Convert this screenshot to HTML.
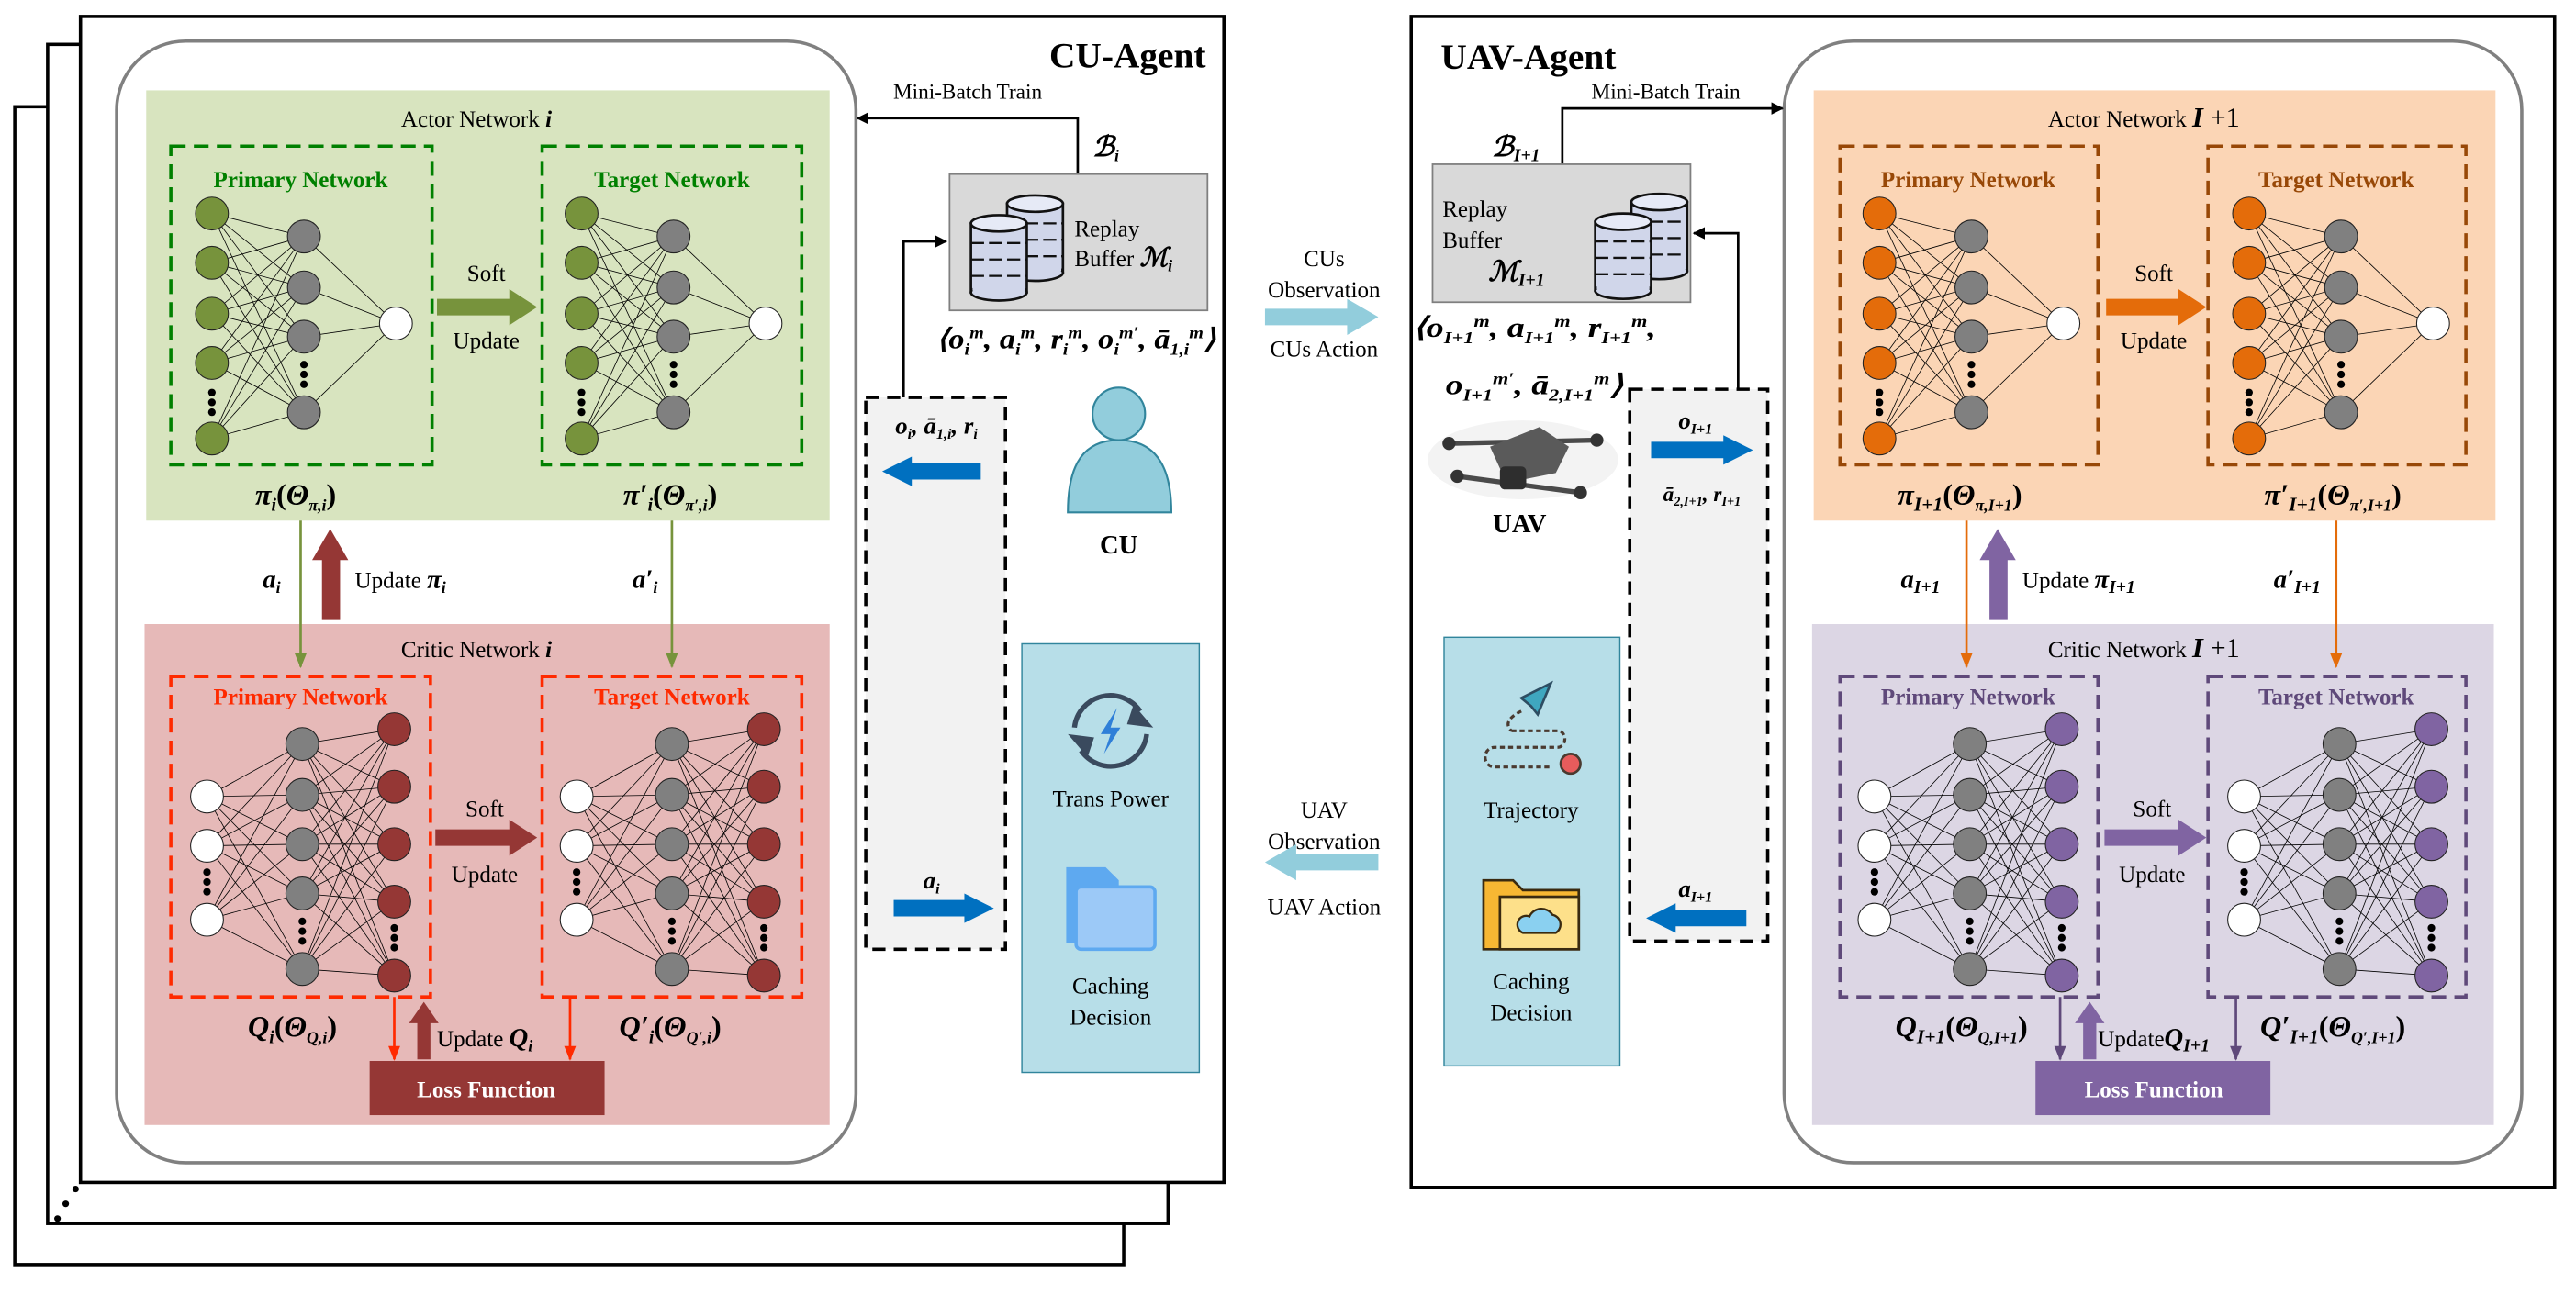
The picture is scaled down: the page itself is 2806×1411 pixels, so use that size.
<!DOCTYPE html>
<html><head><meta charset="utf-8">
<style>
html,body{margin:0;padding:0;background:#fff;}
svg{display:block;font-family:"Liberation Serif","Times New Roman",serif;}
svg text{font-family:"Liberation Serif","Times New Roman",serif;}
.m{font-style:italic;font-weight:bold;}
</style></head>
<body>
<svg id="s" width="2806" height="1411" viewBox="0 0 1568 788.5" preserveAspectRatio="none" xmlns="http://www.w3.org/2000/svg" font-family="Liberation Serif, serif">
<defs>
<marker id="ak" viewBox="0 0 10 10" refX="9" refY="5" markerWidth="5" markerHeight="5" orient="auto"><path d="M0,0L10,5L0,10z" fill="#000"/></marker>
<marker id="ag" viewBox="0 0 10 10" refX="9" refY="5" markerWidth="6" markerHeight="6" orient="auto"><path d="M0,1L10,5L0,9z" fill="#77933c"/></marker>
<marker id="ar" viewBox="0 0 10 10" refX="9" refY="5" markerWidth="6" markerHeight="6" orient="auto"><path d="M0,1L10,5L0,9z" fill="#ff2a00"/></marker>
<marker id="ao" viewBox="0 0 10 10" refX="9" refY="5" markerWidth="6" markerHeight="6" orient="auto"><path d="M0,1L10,5L0,9z" fill="#e46c0a"/></marker>
<marker id="ap" viewBox="0 0 10 10" refX="9" refY="5" markerWidth="6" markerHeight="6" orient="auto"><path d="M0,1L10,5L0,9z" fill="#5f497a"/></marker>
</defs>
<g font-family="Liberation Serif, serif">
<!-- stacked frames left -->
<rect x="9" y="65" width="675" height="705" fill="#fff" stroke="#000" stroke-width="2"/>
<rect x="29" y="27" width="682" height="718" fill="#fff" stroke="#000" stroke-width="2"/>
<rect x="49" y="10" width="696" height="710" fill="#fff" stroke="#000" stroke-width="2"/>
<circle cx="35" cy="742" r="2" fill="#000"/><circle cx="40" cy="733" r="2" fill="#000"/><circle cx="46" cy="724" r="2" fill="#000"/>
<rect x="71" y="25" width="450" height="683" rx="42" fill="#fff" stroke="#808080" stroke-width="2"/>
<rect x="89" y="55" width="416" height="262" fill="#d8e4bf"/>
<rect x="88" y="380" width="417" height="305" fill="#e6b9b8"/>
<rect x="104" y="89" width="159" height="194" fill="none" stroke="#008000" stroke-width="2" stroke-dasharray="9,5"/>
<rect x="330" y="89" width="158" height="194" fill="none" stroke="#008000" stroke-width="2" stroke-dasharray="9,5"/>
<rect x="104" y="412" width="158" height="195" fill="none" stroke="#ff2a00" stroke-width="2" stroke-dasharray="9,5"/>
<rect x="330" y="412" width="158" height="195" fill="none" stroke="#ff2a00" stroke-width="2" stroke-dasharray="9,5"/>
<!-- right frame -->
<rect x="859" y="10" width="696" height="713" fill="#fff" stroke="#000" stroke-width="2"/>
<rect x="1086" y="25" width="449" height="683" rx="42" fill="#fff" stroke="#808080" stroke-width="2"/>
<rect x="1104" y="55" width="415" height="262" fill="#fbd5b5"/>
<rect x="1103" y="380" width="415" height="305" fill="#dcd6e4"/>
<rect x="1120" y="89" width="157" height="194" fill="none" stroke="#984807" stroke-width="2" stroke-dasharray="9,5"/>
<rect x="1344" y="89" width="157" height="194" fill="none" stroke="#984807" stroke-width="2" stroke-dasharray="9,5"/>
<rect x="1120" y="412" width="157" height="195" fill="none" stroke="#5f497a" stroke-width="2" stroke-dasharray="9,5"/>
<rect x="1344" y="412" width="157" height="195" fill="none" stroke="#5f497a" stroke-width="2" stroke-dasharray="9,5"/>
<g id="nets"></g>

<!-- titles -->
<g font-size="14" text-anchor="middle">
<text x="290" y="77">Actor Network <tspan class="m">i</tspan></text>
<text x="290" y="400">Critic Network <tspan class="m">i</tspan></text>
<text x="1305" y="77">Actor Network <tspan class="m" font-size="17">I</tspan><tspan font-size="17"> +1</tspan></text>
<text x="1305" y="400">Critic Network <tspan class="m" font-size="17">I</tspan><tspan font-size="17"> +1</tspan></text>
</g>
<g font-size="14" font-weight="bold" text-anchor="middle">
<text x="183" y="114" fill="#008000">Primary Network</text>
<text x="409" y="114" fill="#008000">Target Network</text>
<text x="183" y="429" fill="#ff2a00">Primary Network</text>
<text x="409" y="429" fill="#ff2a00">Target Network</text>
<text x="1198" y="114" fill="#984807">Primary Network</text>
<text x="1422" y="114" fill="#984807">Target Network</text>
<text x="1198" y="429" fill="#5f497a">Primary Network</text>
<text x="1422" y="429" fill="#5f497a">Target Network</text>
</g>
<g font-size="14" text-anchor="middle">
<text x="296" y="171">Soft</text><text x="296" y="212">Update</text>
<text x="295" y="497">Soft</text><text x="295" y="537">Update</text>
<text x="1311" y="171">Soft</text><text x="1311" y="212">Update</text>
<text x="1310" y="497">Soft</text><text x="1310" y="537">Update</text>
</g>
<!-- block arrows -->
<polygon points="266,182 310,182 310,176 327,187 310,198 310,192 266,192" fill="#77933c"/>
<polygon points="265,505 310,505 310,499 327,510 310,521 310,515 265,515" fill="#953735"/>
<polygon points="1282,182 1326,182 1326,176 1343,187 1326,198 1326,192 1282,192" fill="#e46c0a"/>
<polygon points="1281,505 1326,505 1326,499 1343,510 1326,521 1326,515 1281,515" fill="#8064a2"/>
<polygon points="196,377 196,341 190,341 201,322 212,341 207,341 207,377" fill="#953735"/>
<polygon points="1211,377 1211,341 1205,341 1216,322 1227,341 1222,341 1222,377" fill="#8064a2"/>
<polygon points="254,645 254,623 249,623 258,610 267,623 262,623 262,645" fill="#953735"/>
<polygon points="1268,645 1268,623 1263,623 1272,610 1281,623 1276,623 1276,645" fill="#8064a2"/>
<!-- thin connectors -->
<line x1="183" y1="317" x2="183" y2="406" stroke="#77933c" stroke-width="1.5" marker-end="url(#ag)"/>
<line x1="409" y1="317" x2="409" y2="406" stroke="#77933c" stroke-width="1.5" marker-end="url(#ag)"/>
<line x1="240" y1="607" x2="240" y2="645" stroke="#ff2a00" stroke-width="1.5" marker-end="url(#ar)"/>
<line x1="347" y1="607" x2="347" y2="645" stroke="#ff2a00" stroke-width="1.5" marker-end="url(#ar)"/>
<line x1="1197" y1="317" x2="1197" y2="406" stroke="#e46c0a" stroke-width="1.5" marker-end="url(#ao)"/>
<line x1="1422" y1="317" x2="1422" y2="406" stroke="#e46c0a" stroke-width="1.5" marker-end="url(#ao)"/>
<line x1="1254" y1="607" x2="1254" y2="645" stroke="#5f497a" stroke-width="1.5" marker-end="url(#ap)"/>
<line x1="1361" y1="607" x2="1361" y2="645" stroke="#5f497a" stroke-width="1.5" marker-end="url(#ap)"/>
<!-- loss -->
<rect x="225" y="646" width="143" height="33" fill="#953735"/>
<text x="296" y="668" font-size="14" font-weight="bold" fill="#fff" text-anchor="middle">Loss Function</text>
<rect x="1239" y="646" width="143" height="33" fill="#8064a2"/>
<text x="1311" y="668" font-size="14" font-weight="bold" fill="#fff" text-anchor="middle">Loss Function</text>
<!-- math labels -->
<g font-size="18" text-anchor="middle">
<text x="180" y="307" class="m">π<tspan font-size="11" dy="4">i</tspan><tspan dy="-4" font-style="normal">(</tspan>Θ<tspan font-size="10" dy="4">π,i</tspan><tspan dy="-4" font-style="normal">)</tspan></text>
<text x="408" y="307" class="m">π′<tspan font-size="11" dy="4">i</tspan><tspan dy="-4" font-style="normal">(</tspan>Θ<tspan font-size="10" dy="4">π′,i</tspan><tspan dy="-4" font-style="normal">)</tspan></text>
<text x="178" y="631" class="m">Q<tspan font-size="11" dy="4">i</tspan><tspan dy="-4" font-style="normal">(</tspan>Θ<tspan font-size="10" dy="4">Q,i</tspan><tspan dy="-4" font-style="normal">)</tspan></text>
<text x="408" y="631" class="m">Q′<tspan font-size="11" dy="4">i</tspan><tspan dy="-4" font-style="normal">(</tspan>Θ<tspan font-size="10" dy="4">Q′,i</tspan><tspan dy="-4" font-style="normal">)</tspan></text>
<text x="1193" y="307" class="m">π<tspan font-size="12" dy="4">I+1</tspan><tspan dy="-4" font-style="normal">(</tspan>Θ<tspan font-size="10" dy="4">π,I+1</tspan><tspan dy="-4" font-style="normal">)</tspan></text>
<text x="1420" y="307" class="m">π′<tspan font-size="12" dy="4">I+1</tspan><tspan dy="-4" font-style="normal">(</tspan>Θ<tspan font-size="10" dy="4">π′,I+1</tspan><tspan dy="-4" font-style="normal">)</tspan></text>
<text x="1194" y="631" class="m">Q<tspan font-size="12" dy="4">I+1</tspan><tspan dy="-4" font-style="normal">(</tspan>Θ<tspan font-size="10" dy="4">Q,I+1</tspan><tspan dy="-4" font-style="normal">)</tspan></text>
<text x="1420" y="631" class="m">Q′<tspan font-size="12" dy="4">I+1</tspan><tspan dy="-4" font-style="normal">(</tspan>Θ<tspan font-size="10" dy="4">Q′,I+1</tspan><tspan dy="-4" font-style="normal">)</tspan></text>
</g>
<g font-size="16">
<text x="160" y="358" class="m">a<tspan font-size="10" dy="3">i</tspan></text>
<text x="385" y="358" class="m">a′<tspan font-size="10" dy="3">i</tspan></text>
<text x="216" y="358" font-size="14">Update <tspan class="m" font-size="16">π<tspan font-size="10" dy="3">i</tspan></tspan></text>
<text x="266" y="637" font-size="14">Update <tspan class="m" font-size="16">Q<tspan font-size="10" dy="3">i</tspan></tspan></text>
<text x="1157" y="358" class="m">a<tspan font-size="11" dy="3">I+1</tspan></text>
<text x="1384" y="358" class="m">a′<tspan font-size="11" dy="3">I+1</tspan></text>
<text x="1231" y="358" font-size="14">Update <tspan class="m" font-size="16">π<tspan font-size="11" dy="3">I+1</tspan></tspan></text>
<text x="1277" y="637" font-size="14">Update<tspan class="m" font-size="16">Q<tspan font-size="11" dy="3">I+1</tspan></tspan></text>
</g>
<!-- agent titles -->
<text x="734" y="41" font-size="22" font-weight="bold" text-anchor="end">CU-Agent</text>
<text x="877" y="42" font-size="22" font-weight="bold">UAV-Agent</text>
<!-- CU side -->
<text x="589" y="60" font-size="13" text-anchor="middle">Mini-Batch Train</text>
<polyline points="656,106 656,72 522,72" fill="none" stroke="#000" stroke-width="1.5" marker-end="url(#ak)"/>
<text x="665" y="95" font-size="17" class="m">ℬ<tspan font-size="10" dy="3">i</tspan></text>
<rect x="578" y="106" width="157" height="83" fill="#d9d9d9" stroke="#7f7f7f" stroke-width="1"/>
<g id="db1"></g>
<text x="654" y="144" font-size="14">Replay</text>
<text x="654" y="162" font-size="14">Buffer <tspan class="m" font-size="16">ℳ<tspan font-size="10" dy="3">i</tspan></tspan></text>
<text x="655" y="212" font-size="17" class="m" text-anchor="middle" textLength="170" lengthAdjust="spacingAndGlyphs">⟨o<tspan font-size="10" dy="4">i</tspan><tspan font-size="10" dy="-10">m</tspan><tspan dy="6">, a</tspan><tspan font-size="10" dy="4">i</tspan><tspan font-size="10" dy="-10">m</tspan><tspan dy="6">, r</tspan><tspan font-size="10" dy="4">i</tspan><tspan font-size="10" dy="-10">m</tspan><tspan dy="6">, o</tspan><tspan font-size="10" dy="4">i</tspan><tspan font-size="10" dy="-10">m′</tspan><tspan dy="6">, ā</tspan><tspan font-size="10" dy="4">1,i</tspan><tspan font-size="10" dy="-10">m</tspan><tspan dy="6">⟩</tspan></text>
<rect x="527" y="242" width="85" height="336" fill="#f2f2f2" stroke="#000" stroke-width="2" stroke-dasharray="8,5"/>
<polyline points="550,242 550,147 576,147" fill="none" stroke="#000" stroke-width="1.5" marker-end="url(#ak)"/>
<text x="570" y="264" font-size="15" class="m" text-anchor="middle">o<tspan font-size="9" dy="3">i</tspan><tspan dy="-3">, ā</tspan><tspan font-size="9" dy="3">1,i</tspan><tspan dy="-3">, r</tspan><tspan font-size="9" dy="3">i</tspan></text>
<polygon points="537,287 555,278 555,282 597,282 597,292 555,292 555,296" fill="#0070c0"/>
<text x="567" y="541" font-size="15" class="m" text-anchor="middle">a<tspan font-size="9" dy="3">i</tspan></text>
<polygon points="605,553 587,544 587,548 544,548 544,558 587,558 587,562" fill="#0070c0"/>
<!-- CU person -->
<path d="M650,312 C650,282 660,268 681,268 C702,268 713,282 713,312 Z" fill="#92cddc" stroke="#31859c" stroke-width="1.2"/>
<circle cx="681" cy="252" r="16" fill="#92cddc" stroke="#31859c" stroke-width="1.2"/>
<text x="681" y="337" font-size="16" font-weight="bold" text-anchor="middle">CU</text>
<rect x="622" y="392" width="108" height="261" fill="#b7dee8" stroke="#31859c" stroke-width="0.8"/>
<g transform="translate(676,445)">
<path d="M-22,-2 A22,22 0 0 1 18,-12" fill="none" stroke="#3a4a5e" stroke-width="3"/>
<path d="M22,2 A22,22 0 0 1 -18,12" fill="none" stroke="#3a4a5e" stroke-width="3"/>
<polygon points="14,-16 26,-2 10,-4" fill="#3a4a5e"/><polygon points="-14,16 -26,2 -10,4" fill="#3a4a5e"/>
<polygon points="4,-14 -6,2 0,2 -4,14 6,-2 0,-2" fill="#2f7fd8"/>
</g>
<text x="676" y="491" font-size="14" text-anchor="middle">Trans Power</text>
<g transform="translate(649,528)">
<path d="M0,0 H24 L32,8 V46 H0 Z" fill="#5ea9f0"/>
<rect x="6" y="12" width="48" height="38" rx="3" fill="#9cc9f7" stroke="#5ea9f0" stroke-width="2"/>
</g>
<text x="676" y="605" font-size="14" text-anchor="middle">Caching</text>
<text x="676" y="624" font-size="14" text-anchor="middle">Decision</text>
<!-- middle -->
<g font-size="14" text-anchor="middle">
<text x="806" y="162">CUs</text><text x="806" y="181">Observation</text><text x="806" y="217">CUs Action</text>
<text x="806" y="498">UAV</text><text x="806" y="517">Observation</text><text x="806" y="557">UAV Action</text>
</g>
<polygon points="770,188 820,188 820,182 839,193 820,204 820,198 770,198" fill="#92cddc"/>
<polygon points="839,520 789,520 789,514 770,525 789,536 789,530 839,530" fill="#92cddc"/>
<!-- UAV side -->
<text x="1014" y="60" font-size="13" text-anchor="middle">Mini-Batch Train</text>
<polyline points="951,100 951,66 1085,66" fill="none" stroke="#000" stroke-width="1.5" marker-end="url(#ak)"/>
<text x="908" y="95" font-size="17" class="m">ℬ<tspan font-size="11" dy="3">I+1</tspan></text>
<rect x="872" y="100" width="157" height="84" fill="#d9d9d9" stroke="#7f7f7f" stroke-width="1"/>
<g id="db2"></g>
<text x="878" y="132" font-size="14">Replay</text>
<text x="878" y="151" font-size="14">Buffer</text>
<text x="906" y="171" font-size="17" class="m">ℳ<tspan font-size="11" dy="3">I+1</tspan></text>
<text x="860" y="205" font-size="17" class="m" textLength="148" lengthAdjust="spacingAndGlyphs">⟨o<tspan font-size="10" dy="4">I+1</tspan><tspan font-size="10" dy="-10">m</tspan><tspan dy="6">, a</tspan><tspan font-size="10" dy="4">I+1</tspan><tspan font-size="10" dy="-10">m</tspan><tspan dy="6">, r</tspan><tspan font-size="10" dy="4">I+1</tspan><tspan font-size="10" dy="-10">m</tspan><tspan dy="6">,</tspan></text>
<text x="880" y="240" font-size="17" class="m" textLength="108" lengthAdjust="spacingAndGlyphs">o<tspan font-size="10" dy="4">I+1</tspan><tspan font-size="10" dy="-10">m′</tspan><tspan dy="6">, ā</tspan><tspan font-size="10" dy="4">2,I+1</tspan><tspan font-size="10" dy="-10">m</tspan><tspan dy="6">⟩</tspan></text>
<rect x="992" y="237" width="84" height="336" fill="#f2f2f2" stroke="#000" stroke-width="2" stroke-dasharray="8,5"/>
<polyline points="1058,237 1058,142 1031,142" fill="none" stroke="#000" stroke-width="1.5" marker-end="url(#ak)"/>
<text x="1032" y="261" font-size="15" class="m" text-anchor="middle">o<tspan font-size="9" dy="3">I+1</tspan></text>
<polygon points="1067,274 1049,265 1049,269 1005,269 1005,279 1049,279 1049,283" fill="#0070c0"/>
<text x="1036" y="305" font-size="13" class="m" text-anchor="middle">ā<tspan font-size="8" dy="3">2,I+1</tspan><tspan dy="-3">, r</tspan><tspan font-size="8" dy="3">I+1</tspan></text>
<text x="1032" y="546" font-size="15" class="m" text-anchor="middle">a<tspan font-size="9" dy="3">I+1</tspan></text>
<polygon points="1002,559 1020,550 1020,554 1063,554 1063,564 1020,564 1020,568" fill="#0070c0"/>
<!-- drone -->
<g transform="translate(927,280)">
<ellipse cx="0" cy="0" rx="58" ry="24" fill="#f3f3f3"/>
<line x1="-45" y1="-10" x2="45" y2="-12" stroke="#4a4a4a" stroke-width="3"/>
<line x1="-40" y1="10" x2="35" y2="20" stroke="#4a4a4a" stroke-width="3"/>
<path d="M-20,-8 L10,-20 L28,-8 L20,8 L-10,14 Z" fill="#5a5a5a"/>
<rect x="-14" y="4" width="16" height="14" rx="3" fill="#2e2e2e"/>
<circle cx="-45" cy="-10" r="4" fill="#333"/><circle cx="45" cy="-12" r="4" fill="#333"/>
<circle cx="35" cy="20" r="4" fill="#333"/><circle cx="-40" cy="10" r="4" fill="#333"/>
</g>
<text x="925" y="324" font-size="16" font-weight="bold" text-anchor="middle">UAV</text>
<rect x="879" y="388" width="107" height="261" fill="#b7dee8" stroke="#31859c" stroke-width="0.8"/>
<g transform="translate(932,445)">
<polygon points="-6,-20 12,-29 4,-10 0,-15" fill="#3fa7bf" stroke="#2d4d62" stroke-width="1.5"/>
<path d="M-6,-12 C-14,-8 -16,-4 -12,0 M-12,0 H16 C22,0 22,10 16,10 H-22 C-30,10 -30,22 -22,22 H12" fill="none" stroke="#4a3a30" stroke-width="1.8" stroke-dasharray="3,2"/>
<circle cx="24" cy="20" r="6" fill="#e85c5c" stroke="#4a3a30" stroke-width="1.5"/>
</g>
<text x="932" y="498" font-size="14" text-anchor="middle">Trajectory</text>
<g transform="translate(903,536)">
<path d="M0,0 H18 L24,6 H58 V42 H0 Z" fill="#f7b733" stroke="#3a2a10" stroke-width="1.5"/>
<rect x="10" y="10" width="48" height="32" fill="#fde08a" stroke="#3a2a10" stroke-width="1.5"/>
<path d="M24,32 H44 A6,6 0 0 0 42,21 A8,8 0 0 0 28,22 A5,5 0 0 0 24,32 Z" fill="#8ad0f0" stroke="#3a2a10" stroke-width="1.3"/>
</g>
<text x="932" y="602" font-size="14" text-anchor="middle">Caching</text>
<text x="932" y="621" font-size="14" text-anchor="middle">Decision</text>
</g>
</svg>
<script>
(function(){
var NS="http://www.w3.org/2000/svg",g=document.getElementById("nets");
function el(n,a,p){var e=document.createElementNS(NS,n);for(var k in a)e.setAttribute(k,a[k]);(p||g).appendChild(e);return e;}
function layer(xa,ya,xb,yb){ya.forEach(function(y1){yb.forEach(function(y2){el("line",{x1:xa,y1:y1,x2:xb,y2:y2,stroke:"#000","stroke-width":0.45});});});}
function nodes(x,ys,fill){ys.forEach(function(y){el("circle",{cx:x,cy:y,r:10,fill:fill,stroke:"#222","stroke-width":0.6});});}
function dots(x,y){[-6,0,6].forEach(function(d){el("circle",{cx:x,cy:y+d,r:2.3,fill:"#000"});});}
function actor(ox,c){var a=[130,160,191,221,267],h=[144,175,205,251],o=[197];
layer(ox+129,a,ox+185,h);layer(ox+185,h,ox+241,o);
nodes(ox+129,a,c);nodes(ox+185,h,"#808080");nodes(ox+241,o,"#fff");dots(ox+129,245);dots(ox+185,228);}
function critic(ox,c){var a=[485,515,560],h=[453,484,514,544,590],o=[444,479,514,549,594];
layer(ox+126,a,ox+184,h);layer(ox+184,h,ox+240,o);
nodes(ox+126,a,"#fff");nodes(ox+184,h,"#808080");nodes(ox+240,o,c);dots(ox+126,537);dots(ox+184,567);dots(ox+240,571);}
actor(0,"#77933c");actor(225,"#77933c");critic(0,"#953735");critic(225,"#953735");
actor(1015,"#e46c0a");actor(1240,"#e46c0a");critic(1015,"#8064a2");critic(1240,"#8064a2");
function db(id,x,y){var p=document.getElementById(id);
function cyl(cx,cy){el("rect",{x:cx-17,y:cy,width:34,height:42,fill:"#d0d6ea",stroke:"#111","stroke-width":1.5},p);
el("ellipse",{cx:cx,cy:cy+42,rx:17,ry:5,fill:"#d0d6ea",stroke:"#111","stroke-width":1.5},p);
el("rect",{x:cx-16,y:cy,width:32,height:41,fill:"#d0d6ea"},p);
[12,22,32].forEach(function(d){el("line",{x1:cx-17,y1:cy+d,x2:cx+17,y2:cy+d,stroke:"#111","stroke-width":1.3,"stroke-dasharray":"8,3"},p);});
el("ellipse",{cx:cx,cy:cy,rx:17,ry:5,fill:"#e6eaf6",stroke:"#111","stroke-width":1.5},p);}
cyl(x+22,y);cyl(x,y+12);}
db("db1",608,124);db("db2",988,123);
})();
</script>
</body></html>
